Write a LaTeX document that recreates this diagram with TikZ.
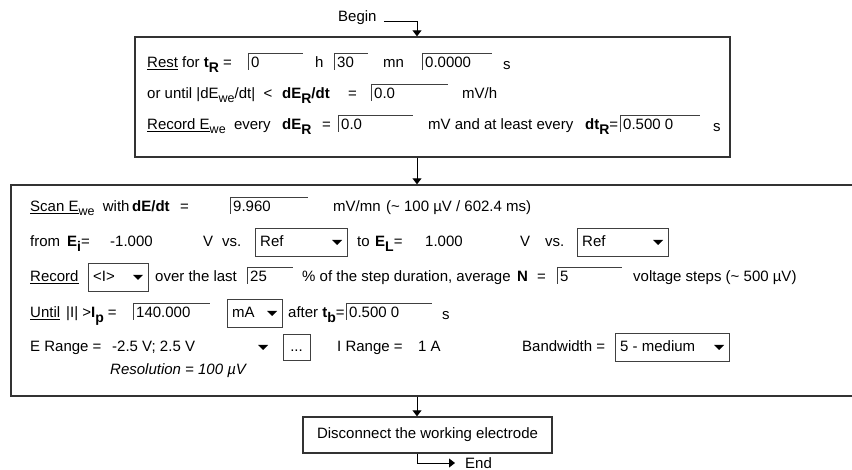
\documentclass[tikz,border=0pt]{standalone}
\usepackage{fontspec}
\setmainfont{Liberation Sans}
\usetikzlibrary{arrows.meta}
\newcommand{\lowr}[1]{\raisebox{-3.5pt}{\fontsize{12.5}{14}\selectfont #1}}
\newcommand{\lowrb}[1]{\raisebox{-4.5pt}{\fontsize{14}{16}\selectfont\bfseries #1}}
\newcommand{\infield}[5]{%
  \draw[fieldln] (#2,#4-10) -- (#3,#4-10);
  \draw[fieldln] (#2,#4-10) -- (#2,#4+7);
  \node[lb] (#1) at (#2+3,#4+5) {#5};}
\newcommand{\dropdn}[5]{%
  \draw[ddln] (#2,#4-14) rectangle (#3,#4+14);
  \node[lb] (#1) at (#2+5,#4+5) {#5};
  \fill[black] (#3-15,#4-2) -- (#3-5,#4-2) -- (#3-10,#4+3) -- cycle;}
\tikzset{
  lb/.style={anchor=base west, inner sep=0pt, font=\fontsize{15}{18}\selectfont},
  fieldln/.style={line width=0.9pt, black!75},
  ddln/.style={line width=0.9pt, black!75},
  boxs/.style={draw=black!80, line width=1.4pt, inner sep=0pt, font=\fontsize{15}{18}\selectfont},
  arr/.style={line width=1pt, -{Triangle[width=9pt,length=6pt]}},
}
\begin{document}
\begin{tikzpicture}[x=1pt,y=-1pt]
\useasboundingbox[fill=white] (0,0) rectangle (852,470);
\coordinate (spine) at (417,0);
% boxes
\node[boxs, minimum width=595pt, minimum height=120pt] (b1) at (432.5,97) {};
\node[boxs, minimum width=849pt, minimum height=211pt] (b2) at (435.5,290.5) {};
\node[boxs, minimum width=249pt, minimum height=36pt] (b3) at (427.5,435) {Disconnect the working electrode};
% begin / end
\node[lb] (begin) at (338,22) {Begin};
\draw[arr] ([xshift=7pt]begin.base east) -| (spine |- b1.north);
\draw[arr] (spine |- b1.south) -- (spine |- b2.north);
\draw[arr] (spine |- b2.south) -- (spine |- b3.north);
\node[lb, anchor=west] (endn) at (465,463) {End};
\draw[arr] (spine |- b3.south) |- ([xshift=-10pt]endn.west);
% ---- box 1, row 1 (y=63)
\node[lb] (a1) at (147,68) {\underline{Rest} for \textbf{t}\lowrb{R} =};
\infield{f1}{248}{303}{63}{0}
\node[lb] (a2) at (315,68) {h};
\infield{f2}{334}{368}{63}{30}
\node[lb] (a3) at (383,68) {mn};
\infield{f3}{422}{492}{63}{0.0000}
\node[lb] (a4) at (503,70) {s};
% row 2 (y=94)
\node[lb] (a5) at (147,99) {or until |dE\lowr{we}/dt| \ <};
\node[lb] (a6) at (282,99) {\textbf{dE}\lowrb{R}\textbf{/dt}};
\node[lb] (a7) at (348,99) {=};
\infield{f4}{371}{448}{94}{0.0}
\node[lb] (a8) at (462,99) {mV/h};
% row 3 (y=125)
\node[lb] (a9) at (147,130) {\underline{Record E}\lowr{we}\ \ every};
\node[lb] (a10) at (282,130) {\textbf{dE}\lowrb{R}};
\node[lb] (a11) at (322,130) {=};
\infield{f5}{338}{413}{125}{0.0}
\node[lb] (a12) at (428,130) {mV and at least every};
\node[lb] (a13) at (585,130) {\textbf{dt}\lowrb{R}=};
\infield{f6}{620}{700}{125}{0.500 0}
\node[lb] (a14) at (713,132) {s};
% ---- box 2, row 1 (y=207)
\node[lb] (c1) at (30,212) {\underline{Scan E}\lowr{we}\ \ with};
\node[lb] (c3) at (132,212) {\textbf{dE/dt}};
\node[lb] (c4) at (180,212) {=};
\infield{g1}{230}{308}{207}{9.960}
\node[lb] (c5) at (333,212) {mV/mn};
\node[lb] (c6) at (386,212) {(\textasciitilde{} 100 µV / 602.4 ms)};
% row 2 (y=242)
\node[lb] (c7) at (30,247) {from};
\node[lb] (c8) at (67,247) {\textbf{E}\lowrb{i}=};
\node[lb] (c9) at (110,247) {-1.000};
\node[lb] (c10) at (203,247) {V};
\node[lb] (c11) at (222,247) {vs.};
\dropdn{d1}{255}{347}{242}{Ref}
\node[lb] (c12) at (357,247) {to};
\node[lb] (c13) at (375,247) {\textbf{E}\lowrb{L}=};
\node[lb] (c14) at (425,247) {1.000};
\node[lb] (c15) at (520,247) {V};
\node[lb] (c16) at (545,247) {vs.};
\dropdn{d2}{577}{668}{242}{Ref}
% row 3 (y=277)
\node[lb] (c17) at (30,282) {\underline{Record}};
\dropdn{d3}{88}{148}{277}{<I>}
\node[lb] (c18) at (155,282) {over the last};
\infield{g2}{247}{293}{277}{25}
\node[lb] (c19) at (302,282) {\% of the step duration, average};
\node[lb] (c20) at (517,282) {\textbf{N}};
\node[lb] (c21) at (537,282) {=};
\infield{g3}{557}{622}{277}{5}
\node[lb] (c22) at (633,282) {voltage steps (\textasciitilde{} 500 µV)};
% row 4 (y=313)
\node[lb] (c23) at (30,318) {\underline{Until}};
\node[lb] (c24) at (66,318) {|I| >\textbf{I}\lowrb{p} =};
\infield{g4}{133}{210}{313}{140.000}
\dropdn{d4}{227}{282}{313}{mA}
\node[lb] (c25) at (288,318) {after \textbf{t}\lowrb{b}=};
\infield{g5}{346}{432}{313}{0.500 0}
\node[lb] (c26) at (442,320) {s};
% row 5 (y=347)
\node[lb] (c27) at (30,352) {E Range =};
\node[lb] (c28) at (112,352) {-2.5 V; 2.5 V};
\fill[black] (258,345) -- (268,345) -- (263,350) -- cycle;
\draw[ddln] (283,334) rectangle (310,360);
\node[lb, anchor=base] (c29) at (296.5,352) {...};
\node[lb] (c30) at (337,352) {I Range =};
\node[lb] (c31) at (418,352) {1 A};
\node[lb] (c32) at (522,352) {Bandwidth =};
\dropdn{d5}{615}{729}{347}{5 - medium}
% row 6 (y=370)
\node[lb] (c33) at (110,375) {\textit{Resolution = 100 µV}};
\end{tikzpicture}
\end{document}
